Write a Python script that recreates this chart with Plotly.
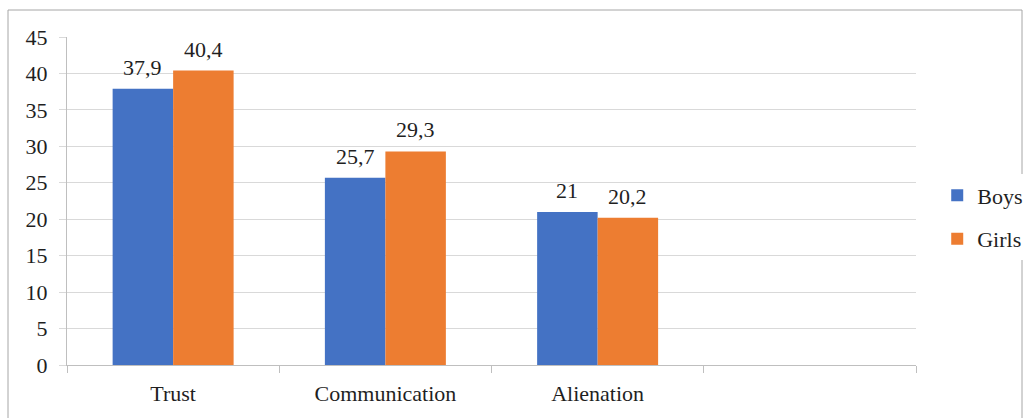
import plotly.graph_objects as go

# Scale scores by gender
categories = ["Trust", "Communication", "Alienation"]
boys = [37.9, 25.7, 21]
girls = [40.4, 29.3, 20.2]
y_ticks = [0, 5, 10, 15, 20, 25, 30, 35, 40, 45]

BLUE = "#4472C4"
ORANGE = "#ED7D31"
FONT = "Liberation Serif, Times New Roman, serif"
GRID = "#d9d9d9"
TEXT = "#1f1f1f"
FS = 22

# an empty fourth slot on the category axis
slots = categories + [" "]

bargap = 0.43
bar_w = (1 - bargap) / 2


def fmt(v):
    s = f"{v:g}"
    return s.replace(".", ",")


fig = go.Figure()
fig.add_trace(go.Bar(name="Boys", x=categories, y=boys, marker_color=BLUE,
                     marker_line_width=0, legendgroup="boys"))
fig.add_trace(go.Bar(name="Girls", x=categories, y=girls, marker_color=ORANGE,
                     marker_line_width=0, legendgroup="girls"))

# value labels above each bar
for i, (b, g) in enumerate(zip(boys, girls)):
    for xv, v in ((i - bar_w / 2, b), (i + bar_w / 2, g)):
        fig.add_annotation(x=xv, y=v, text=fmt(v), showarrow=False,
                           yanchor="bottom", yshift=7,
                           font=dict(family=FONT, size=FS, color=TEXT))

# outer frame around the whole chart
W, H = 1025, 418
ml, mr, mt, mb = 67, 109, 37, 53
pw, ph = W - ml - mr, H - mt - mb
fig.add_shape(type="rect", xref="paper", yref="paper",
              x0=(8 - ml) / pw, x1=(1022 - ml) / pw,
              y0=(365 - 430) / ph, y1=(365 - 10) / ph,
              line=dict(color="#a6a6a6", width=1), fillcolor="rgba(0,0,0,0)")

fig.update_layout(
    width=W, height=H,
    margin=dict(l=ml, r=mr, t=mt, b=mb, autoexpand=False),
    paper_bgcolor="white", plot_bgcolor="white",
    barmode="group", bargap=bargap, bargroupgap=0,
    font=dict(family=FONT, size=FS, color=TEXT),
    showlegend=True,
    legend=dict(x=1.025, y=0.45, xanchor="left", yanchor="middle",
                font=dict(family=FONT, size=FS, color=TEXT),
                itemwidth=30, tracegroupgap=12),
    xaxis=dict(type="category", categoryorder="array", categoryarray=slots,
               range=[-0.5, 3.5], tickson="boundaries", ticks="outside",
               ticklen=7, tickcolor="#bfbfbf", showline=True,
               linecolor="#bfbfbf", showgrid=False, ticklabelstandoff=9,
               tickfont=dict(family=FONT, size=FS, color=TEXT)),
    yaxis=dict(range=[0, 45], tickvals=y_ticks, ticks="outside", ticklen=7,
               tickcolor=GRID, showline=True, linecolor="#bfbfbf",
               gridcolor=GRID, gridwidth=1, zeroline=False,
               ticklabelstandoff=7,
               tickfont=dict(family=FONT, size=FS, color=TEXT)),
)

fig.write_html("out.html")
